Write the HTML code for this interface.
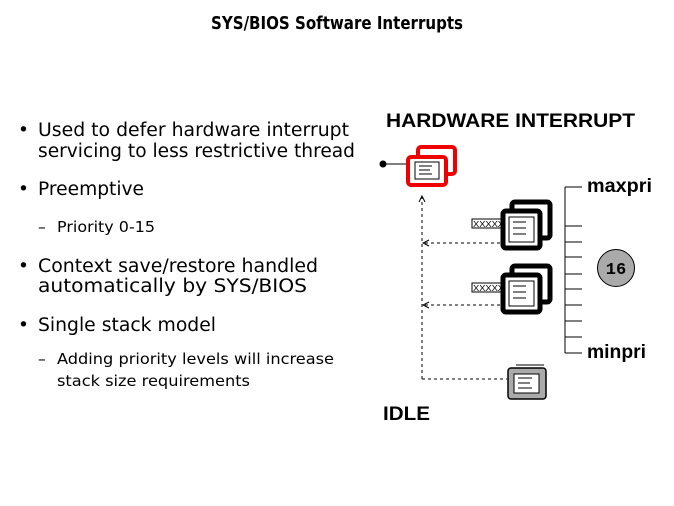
<!DOCTYPE html>
<html><head><meta charset="utf-8"><style>html,body{margin:0;padding:0;background:#fff}svg{display:block}</style></head>
<body>
<svg width="674" height="506" viewBox="0 0 674 506" xmlns="http://www.w3.org/2000/svg">
<defs>
<marker id="ar" markerWidth="8" markerHeight="8" refX="7" refY="4" orient="auto" markerUnits="userSpaceOnUse"><path d="M1,1 L7,4 L1,7" fill="none" stroke="#000" stroke-width="1"/></marker>
</defs>
<text x="337" y="29" text-anchor="middle" font-family="DejaVu Sans, sans-serif" font-weight="bold" font-size="18" textLength="252" lengthAdjust="spacingAndGlyphs">SYS/BIOS Software Interrupts</text>
<g font-family="DejaVu Sans, sans-serif" font-size="18.5" fill="#000">
<text x="18" y="136">•</text>
<text x="38" y="136" textLength="311" lengthAdjust="spacingAndGlyphs">Used to defer hardware interrupt</text>
<text x="38" y="157" textLength="317" lengthAdjust="spacingAndGlyphs">servicing to less restrictive thread</text>
<text x="18" y="195">•</text>
<text x="38" y="195" textLength="106" lengthAdjust="spacingAndGlyphs">Preemptive</text>
<text x="18" y="272">•</text>
<text x="38" y="272" textLength="280" lengthAdjust="spacingAndGlyphs">Context save/restore handled</text>
<text x="38" y="292" textLength="269" lengthAdjust="spacingAndGlyphs">automatically by SYS/BIOS</text>
<text x="18" y="331">•</text>
<text x="38" y="331" textLength="178" lengthAdjust="spacingAndGlyphs">Single stack model</text>
</g>
<g font-family="DejaVu Sans, sans-serif" font-size="15.5" fill="#000">
<text x="38" y="232">–</text>
<text x="57" y="232" textLength="98" lengthAdjust="spacingAndGlyphs">Priority 0-15</text>
<text x="38" y="364">–</text>
<text x="57" y="364" textLength="277" lengthAdjust="spacingAndGlyphs">Adding priority levels will increase</text>
<text x="57" y="386" textLength="193" lengthAdjust="spacingAndGlyphs">stack size requirements</text>
</g>
<g font-family="Liberation Sans, sans-serif" font-weight="bold" font-size="19">
<text x="386" y="127" textLength="249" lengthAdjust="spacingAndGlyphs">HARDWARE INTERRUPT</text>
<text x="383" y="420" textLength="47" lengthAdjust="spacingAndGlyphs">IDLE</text>
<text x="587" y="192" textLength="65" lengthAdjust="spacingAndGlyphs">maxpri</text>
<text x="587" y="358" textLength="59" lengthAdjust="spacingAndGlyphs">minpri</text>
</g>
<!-- red HWI -->
<circle cx="383" cy="164" r="3.5" fill="#000"/>
<line x1="383" y1="164" x2="408" y2="164" stroke="#000" stroke-width="1"/>
<rect x="418" y="147" width="37" height="27" rx="3" fill="#fff" stroke="#e00" stroke-width="4"/>
<rect x="408" y="157" width="38" height="28" rx="3" fill="#fff" stroke="#e00" stroke-width="4"/>
<rect x="415" y="162" width="24" height="17" fill="#fff" stroke="#000" stroke-width="1"/>
<g stroke="#000" stroke-width="1"><line x1="419" y1="166" x2="432" y2="166"/><line x1="419" y1="170" x2="430" y2="170"/><line x1="419" y1="174" x2="432" y2="174"/></g>
<!-- dashed connectors -->
<g stroke="#000" stroke-width="1" stroke-dasharray="3,3" fill="none">
<line x1="422" y1="379" x2="422" y2="196" marker-end="url(#ar)"/>
<line x1="500" y1="243" x2="423" y2="243" marker-end="url(#ar)"/>
<line x1="500" y1="305" x2="423" y2="305" marker-end="url(#ar)"/>
<line x1="422" y1="379" x2="507" y2="379"/>
</g>
<!-- black SWIs -->
<g id="swi">
<rect x="472" y="219" width="33" height="9" fill="#fff" stroke="#000" stroke-width="1"/>
<text x="473" y="227" font-family="Liberation Sans, sans-serif" font-size="8" textLength="31" lengthAdjust="spacingAndGlyphs">XXXXX</text>
<rect x="512" y="202" width="38" height="36" rx="3" fill="#fff" stroke="#000" stroke-width="5"/>
<rect x="503" y="211" width="37" height="37" rx="3" fill="#fff" stroke="#000" stroke-width="5"/>
<rect x="509" y="217" width="25" height="25" fill="#fff" stroke="#000" stroke-width="1"/>
<g stroke="#000" stroke-width="1"><line x1="513" y1="222" x2="526" y2="222"/><line x1="513" y1="228" x2="526" y2="228"/><line x1="513" y1="234" x2="526" y2="234"/></g>
</g>
<use href="#swi" y="64"/>
<!-- grey idle -->
<line x1="516" y1="365" x2="544" y2="365" stroke="#000" stroke-width="1"/>
<rect x="508" y="368" width="38" height="31" rx="3" fill="#aaa" stroke="#000" stroke-width="1.5"/>
<rect x="514" y="374" width="25" height="19" fill="#fff" stroke="#000" stroke-width="1"/>
<g stroke="#000" stroke-width="1"><line x1="518" y1="378" x2="532" y2="378"/><line x1="518" y1="383" x2="530" y2="383"/><line x1="518" y1="388" x2="532" y2="388"/></g>
<!-- priority scale -->
<g stroke="#000" stroke-width="1">
<line x1="565" y1="187" x2="565" y2="353"/>
<line x1="565" y1="187" x2="582" y2="187"/>
<line x1="565" y1="226" x2="582" y2="226"/>
<line x1="565" y1="242" x2="582" y2="242"/>
<line x1="565" y1="257" x2="582" y2="257"/>
<line x1="565" y1="274" x2="582" y2="274"/>
<line x1="565" y1="289" x2="582" y2="289"/>
<line x1="565" y1="305" x2="582" y2="305"/>
<line x1="565" y1="321" x2="582" y2="321"/>
<line x1="565" y1="337" x2="582" y2="337"/>
<line x1="565" y1="353" x2="582" y2="353"/>
</g>
<circle cx="616" cy="268" r="18.5" fill="#aaa" stroke="#000" stroke-width="1"/>
<text x="616" y="274" text-anchor="middle" font-family="Liberation Mono, monospace" font-weight="bold" font-size="17">16</text>
</svg>
</body></html>
